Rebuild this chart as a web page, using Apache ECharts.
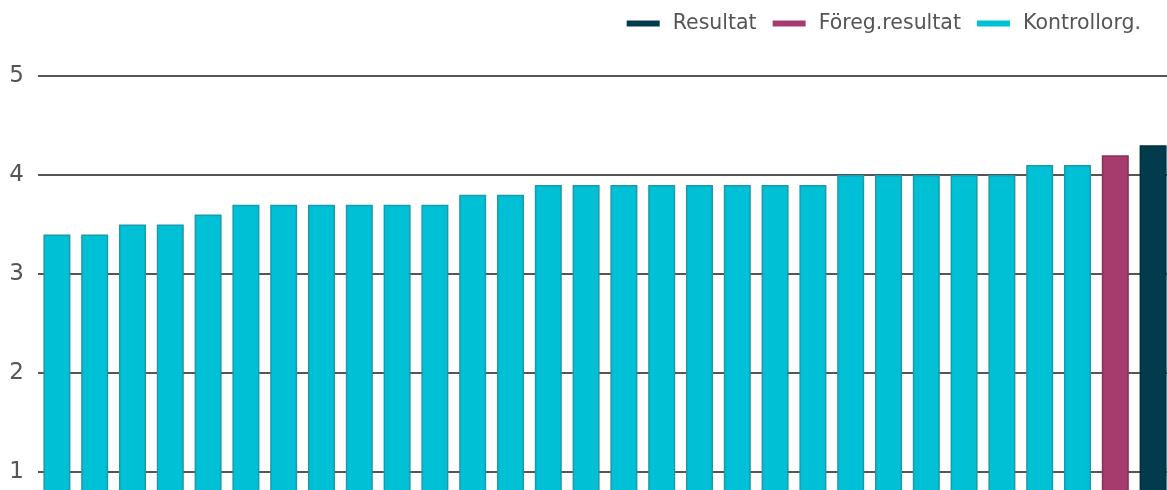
<!DOCTYPE html>
<html>
<head>
    <meta charset="utf-8">
    <title>index</title>
    <style>
        html, body { margin: 0; padding: 0; background: #fff; }
        #container { width: 1167px; height: 490px; }
    </style>
</head>
<body>
    <div id="container"></div>
    <script src="https://cdn.jsdelivr.net/npm/echarts@6/dist/echarts.min.js"></script>
    <script type="text/javascript">
        // data
        var kontrollVals = [3.4, 3.4, 3.5, 3.5, 3.6, 3.7, 3.7, 3.7, 3.7, 3.7, 3.7, 3.8, 3.8,
            3.9, 3.9, 3.9, 3.9, 3.9, 3.9, 3.9, 3.9, 4.0, 4.0, 4.0, 4.0, 4.0, 4.1, 4.1];
        var foregVals = [4.2];
        var resultatVals = [4.3];
        var yTicks = [1, 2, 3, 4, 5];

        var n = kontrollVals.length + foregVals.length + resultatVals.length;
        var categories = [];
        for (var i = 0; i < n; i++) categories.push(String(i + 1));

        // place each group in its own slots
        function pad(vals, start) {
            var arr = [];
            for (var i = 0; i < n; i++) arr.push('-');
            vals.forEach(function (v, k) { arr[start + k] = v; });
            return arr;
        }
        var kontrollData = pad(kontrollVals, 0);
        var foregData = pad(foregVals, kontrollVals.length);
        var resultatData = pad(resultatVals, kontrollVals.length + foregVals.length);

        var dom = document.getElementById("container");
        var myChart = echarts.init(dom);

        var option = {
            backgroundColor: "#fff",
            animation: false,
            textStyle: { fontFamily: "DejaVu Sans" },
            legend: {
                right: 21,
                top: 8,
                itemWidth: 33,
                itemHeight: 6,
                itemGap: 16,
                icon: "rect",
                itemStyle: { borderWidth: 0 },
                textStyle: { color: "#555", fontSize: 20.5, padding: [0, 0, 0, 8] },
                data: ["Resultat", "Föreg.resultat", "Kontrollorg."]
            },
            grid: {
                left: 38,
                top: 76,
                width: 1134,
                height: 495,
                containLabel: false,
                outerBoundsMode: "none"
            },
            xAxis: {
                type: "category",
                data: categories,
                axisLine: { show: false },
                axisTick: { show: false },
                axisLabel: { show: false }
            },
            yAxis: {
                type: "value",
                min: 0,
                max: 5,
                interval: 1,
                axisLine: { show: false },
                axisTick: { show: false },
                axisLabel: {
                    color: "#555",
                    fontSize: 23,
                    margin: 14,
                    formatter: function (v) { return yTicks.indexOf(v) >= 0 ? String(v) : ""; }
                },
                splitLine: { lineStyle: { color: "#555", width: 2 } }
            },
            series: [{
                name: "Resultat",
                type: "bar",
                data: resultatData,
                barWidth: 27,
                barGap: "-100%",
                itemStyle: { color: "#023b4b", borderColor: "#022f3c", borderWidth: 1.5 }
            }, {
                name: "Föreg.resultat",
                type: "bar",
                data: foregData,
                barWidth: 27,
                barGap: "-100%",
                itemStyle: { color: "#a63c6e", borderColor: "#8a2e5b", borderWidth: 1.5 }
            }, {
                name: "Kontrollorg.",
                type: "bar",
                data: kontrollData,
                barWidth: 27,
                barGap: "-100%",
                itemStyle: { color: "#00c0d6", borderColor: "#1a9aab", borderWidth: 1.5 }
            }]
        };
        myChart.setOption(option, true);
    </script>
</body>
</html>
